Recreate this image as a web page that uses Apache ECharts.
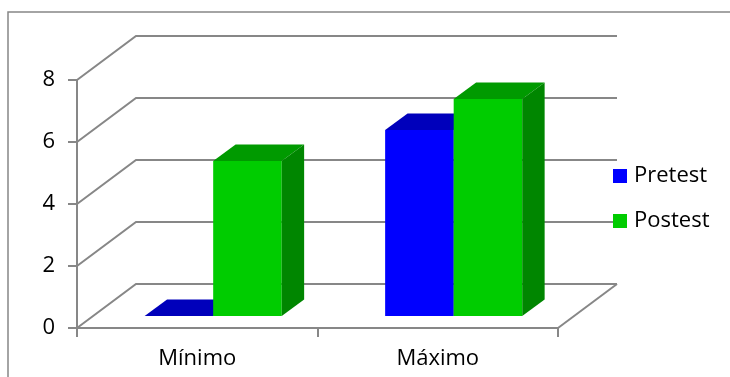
<!DOCTYPE html>
<html>
<head>
<meta charset="utf-8">
<script src="https://cdn.jsdelivr.net/npm/echarts@6/dist/echarts.min.js"></script>
<style>
  html, body { margin: 0; padding: 0; background: #fff; }
  #main { width: 730px; height: 377px; }
</style>
</head>
<body>
<div id="main"></div>
<script>
// datos del grafico
const categories = ['Mínimo', 'Máximo'];
const pretest = [0, 6];
const postest = [5, 7];
const yTicks = [0, 2, 4, 6, 8];

// perspectiva (profundidad del piso y de las barras)
const DX = 59, DY = -44;
const F0 = 0.27, F1 = 0.65;
const GRID_COLOR = '#878787';
const FONT = '"Open Sans", sans-serif';

function gridItem (params, api) {
    const cs = params.coordSys;
    const v = api.value(1);
    const y = api.coord([0, v])[1];
    const children = [{
        type: 'polyline',
        shape: {points: [[cs.x, y], [cs.x + DX, y + DY], [cs.x + cs.width + DX, y + DY]]},
        style: {stroke: GRID_COLOR, lineWidth: 2, fill: null}
    }];
    if (v === 0) { // borde derecho del piso
        children.push({
            type: 'line',
            shape: {x1: cs.x + cs.width, y1: y, x2: cs.x + cs.width + DX, y2: y + DY},
            style: {stroke: GRID_COLOR, lineWidth: 2}
        });
    }
    return {type: 'group', children: children};
}

function barItem (side, front, top, sideCol) {
    return function (params, api) {
        const cat = api.value(0);
        const val = api.value(1);
        const base = api.coord([cat, 0]);
        const tip = api.coord([cat, val]);
        const bw = api.size([1, 0])[0] * 0.285;
        const fx = DX * F0, fy = DY * F0;
        const ddx = DX * (F1 - F0), ddy = DY * (F1 - F0);
        const x0 = base[0] + fx + (side < 0 ? -bw : 0);
        const x1 = x0 + bw;
        const yT = tip[1] + fy, yB = base[1] + fy;
        return {
            type: 'group',
            children: [
                {type: 'rect', shape: {x: x0, y: yT, width: bw, height: yB - yT}, style: {fill: front}},
                {type: 'polygon', shape: {points: [[x0, yT], [x1, yT], [x1 + ddx, yT + ddy], [x0 + ddx, yT + ddy]]}, style: {fill: top}},
                {type: 'polygon', shape: {points: [[x1, yT], [x1 + ddx, yT + ddy], [x1 + ddx, yB + ddy], [x1, yB]]}, style: {fill: sideCol}}
            ]
        };
    };
}

const myChart = echarts.init(document.getElementById('main'));
myChart.setOption({
    animation: false,
    backgroundColor: '#fff',
    graphic: [{
        type: 'rect',
        shape: {x: 8, y: 12, width: 760, height: 420},
        style: {fill: null, stroke: '#878787', lineWidth: 1.5},
        silent: true
    }],
    grid: {left: 77, top: 80, width: 481, height: 248},
    legend: {
        data: ['Pretest', 'Postest'],
        orient: 'vertical',
        left: 608,
        top: 160,
        icon: 'rect',
        itemWidth: 14,
        itemHeight: 14,
        itemGap: 23,
        textStyle: {fontFamily: FONT, fontSize: 22, color: '#000', padding: [0, 0, 0, 2]}
    },
    xAxis: {
        type: 'category',
        data: categories,
        axisLine: {lineStyle: {color: GRID_COLOR, width: 2}},
        axisTick: {show: true, length: 9, lineStyle: {color: GRID_COLOR, width: 2}},
        axisLabel: {margin: 20, fontFamily: FONT, fontSize: 22, color: '#000'},
        splitLine: {show: false}
    },
    yAxis: {
        type: 'value',
        min: 0,
        max: 8,
        interval: 2,
        axisLine: {show: true, lineStyle: {color: GRID_COLOR, width: 2}},
        axisTick: {show: true, length: 9, lineStyle: {color: GRID_COLOR, width: 2}},
        axisLabel: {margin: 22, fontFamily: FONT, fontSize: 22, color: '#000'},
        splitLine: {show: false}
    },
    series: [
        {
            name: 'grid3d',
            type: 'custom',
            renderItem: gridItem,
            data: yTicks.map(v => [0, v]),
            clip: false,
            silent: true,
            z: 1
        },
        {
            name: 'Pretest',
            type: 'custom',
            renderItem: barItem(-1, '#0000ff', '#0000bb', '#0000a0'),
            itemStyle: {color: '#0000ff'},
            data: pretest.map((v, i) => [i, v]),
            clip: false,
            z: 2
        },
        {
            name: 'Postest',
            type: 'custom',
            renderItem: barItem(1, '#00cc00', '#009a00', '#008600'),
            itemStyle: {color: '#00cc00'},
            data: postest.map((v, i) => [i, v]),
            clip: false,
            z: 3
        }
    ]
});
</script>
</body>
</html>
